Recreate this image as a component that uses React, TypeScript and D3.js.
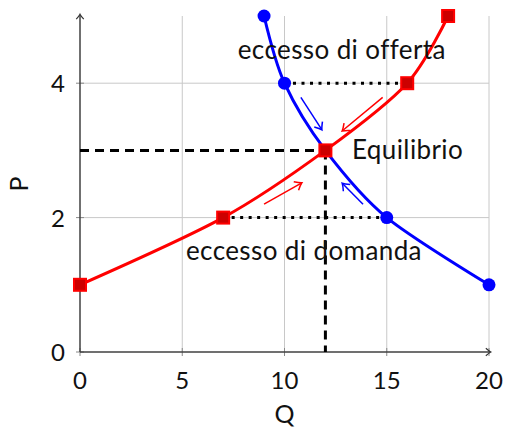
import { useEffect, useRef } from 'react';
import * as d3 from 'd3';

// demand (blue) and supply (red) points
const demandQ = [9, 10, 12, 15, 20];
const demandP = [5, 4, 3, 2, 1];
const supplyQ = [0, 7, 12, 16, 18];
const supplyP = [1, 2, 3, 4, 5];

const xTicks = [0, 5, 10, 15, 20];
const yTicks = [0, 2, 4];

// excess lines
const dottedLines = [
  { x1: 10, x2: 16, y: 4 },
  { x1: 7, x2: 15, y: 2 },
];
const eqQ = 12, eqP = 3;

// adjustment arrows [x1, y1, x2, y2]
const arrows = [
  { c: 'blue', p: [10.8, 3.79, 11.8, 3.32] },
  { c: 'red', p: [14.8, 3.79, 12.86, 3.3] },
  { c: 'red', p: [9.0, 2.2, 10.8, 2.51] },
  { c: 'blue', p: [13.84, 2.2, 12.86, 2.5] },
];

const labels = [
  { t: 'eccesso di offerta', x: 12.8, y: 4.5, a: 'middle' },
  { t: 'Equilibrio', x: 13.3, y: 3, a: 'start' },
  { t: 'eccesso di domanda', x: 10.95, y: 1.5, a: 'middle' },
];

const font = "Lato, 'DejaVu Sans', sans-serif";

export default function App() {
  const svgRef = useRef(null);

  useEffect(() => {
    const svg = d3.select(svgRef.current);
    svg.selectAll('*').remove();

    const W = 506, H = 431;
    svg.attr('width', W).attr('height', H);

    const x = d3.scaleLinear().domain([0, 20]).range([80, 489]);
    const y = d3.scaleLinear().domain([0, 5]).range([352, 16]);

    const defs = svg.append('defs');
    const mk = (id, color, size) => {
      defs.append('marker').attr('id', id).attr('viewBox', '-6 -6 12 12')
        .attr('markerWidth', size).attr('markerHeight', size).attr('refX', 0).attr('refY', 0)
        .attr('orient', 'auto').attr('markerUnits', 'userSpaceOnUse')
        .append('path').attr('d', 'M-5,-4.5 Q-1,-1 1,0 Q-1,1 -5,4.5')
        .attr('fill', 'none').attr('stroke', color).attr('stroke-width', 1.4);
    };
    mk('ax', '#333', 10);
    mk('ab', 'blue', 13);
    mk('ar', 'red', 13);

    // grid
    const g = svg.append('g');
    g.selectAll('.gx').data(xTicks.slice(1)).join('line')
      .attr('x1', d => x(d)).attr('x2', d => x(d)).attr('y1', y(0)).attr('y2', y(5))
      .attr('stroke', '#c8c8c8').attr('stroke-width', 1);
    g.selectAll('.gy').data(yTicks.slice(1)).join('line')
      .attr('x1', x(0)).attr('x2', x(20)).attr('y1', d => y(d)).attr('y2', d => y(d))
      .attr('stroke', '#c8c8c8').attr('stroke-width', 1);

    // ticks
    g.selectAll('.tx').data(xTicks).join('line')
      .attr('x1', d => x(d)).attr('x2', d => x(d)).attr('y1', y(0) - 4).attr('y2', y(0) + 4)
      .attr('stroke', '#888').attr('stroke-width', 1);
    g.selectAll('.ty').data(yTicks).join('line')
      .attr('x1', x(0) - 4).attr('x2', x(0) + 4).attr('y1', d => y(d)).attr('y2', d => y(d))
      .attr('stroke', '#888').attr('stroke-width', 1);

    // axes
    g.append('line').attr('x1', x(0)).attr('x2', x(20) + 1).attr('y1', y(0)).attr('y2', y(0))
      .attr('stroke', '#404040').attr('stroke-width', 1.5).attr('marker-end', 'url(#ax)');
    g.append('line').attr('x1', x(0)).attr('x2', x(0)).attr('y1', y(0)).attr('y2', y(5) - 1)
      .attr('stroke', '#404040').attr('stroke-width', 1.5).attr('marker-end', 'url(#ax)');

    // tick labels
    g.selectAll('.lx').data(xTicks).join('text')
      .attr('x', d => x(d)).attr('y', y(0) + 37).attr('text-anchor', 'middle')
      .attr('font-family', font).attr('font-size', 24).attr('fill', '#111').text(d => d);
    g.selectAll('.ly').data(yTicks).join('text')
      .attr('x', x(0) - 15).attr('y', d => y(d) + 9).attr('text-anchor', 'end')
      .attr('font-family', font).attr('font-size', 24).attr('fill', '#111').text(d => d);

    // axis titles
    g.append('text').attr('x', x(10)).attr('y', 423).attr('text-anchor', 'middle')
      .attr('font-family', font).attr('font-size', 25).attr('fill', '#111').text('Q');
    g.append('text').attr('transform', `translate(28,${y(2.5)}) rotate(-90)`).attr('text-anchor', 'middle')
      .attr('font-family', font).attr('font-size', 25).attr('fill', '#111').text('P');

    // dashed equilibrium lines
    g.append('line').attr('x1', x(0)).attr('x2', x(eqQ)).attr('y1', y(eqP)).attr('y2', y(eqP))
      .attr('stroke', '#000').attr('stroke-width', 3).attr('stroke-dasharray', '9,6');
    g.append('line').attr('x1', x(eqQ)).attr('x2', x(eqQ)).attr('y1', y(eqP)).attr('y2', y(0))
      .attr('stroke', '#000').attr('stroke-width', 3).attr('stroke-dasharray', '9,6');

    // dotted excess lines
    g.selectAll('.dl').data(dottedLines).join('line')
      .attr('x1', d => x(d.x1)).attr('x2', d => x(d.x2)).attr('y1', d => y(d.y)).attr('y2', d => y(d.y))
      .attr('stroke', '#000').attr('stroke-width', 3).attr('stroke-dasharray', '3,5.5');

    const line = d3.line().x(d => x(d[0])).y(d => y(d[1])).curve(d3.curveCardinal.tension(0.1));
    const demand = demandQ.map((q, i) => [q, demandP[i]]);
    const supply = supplyQ.map((q, i) => [q, supplyP[i]]);

    g.append('path').datum(demand).attr('d', line).attr('fill', 'none').attr('stroke', 'blue').attr('stroke-width', 3);
    g.append('path').datum(supply).attr('d', line).attr('fill', 'none').attr('stroke', 'red').attr('stroke-width', 3);

    g.selectAll('.dm').data(demand).join('circle')
      .attr('cx', d => x(d[0])).attr('cy', d => y(d[1])).attr('r', 6.5).attr('fill', 'blue');
    g.selectAll('.sm').data(supply).join('rect')
      .attr('x', d => x(d[0]) - 6).attr('y', d => y(d[1]) - 6).attr('width', 12).attr('height', 12)
      .attr('fill', '#cc0000').attr('stroke', 'red').attr('stroke-width', 2);

    // arrows
    g.selectAll('.ar').data(arrows).join('line')
      .attr('x1', d => x(d.p[0])).attr('y1', d => y(d.p[1])).attr('x2', d => x(d.p[2])).attr('y2', d => y(d.p[3]))
      .attr('stroke', d => d.c).attr('stroke-width', 1.5)
      .attr('marker-end', d => d.c === 'blue' ? 'url(#ab)' : 'url(#ar)');

    // labels
    g.selectAll('.lb').data(labels).join('text')
      .attr('x', d => x(d.x)).attr('y', d => y(d.y) + 9).attr('text-anchor', d => d.a)
      .attr('font-family', font).attr('font-size', 26).attr('letter-spacing', 0.4)
      .attr('fill', '#111').text(d => d.t);
  }, []);

  return <svg ref={svgRef} style={{ position: 'absolute', left: 0, top: 0, display: 'block' }}></svg>;
}
